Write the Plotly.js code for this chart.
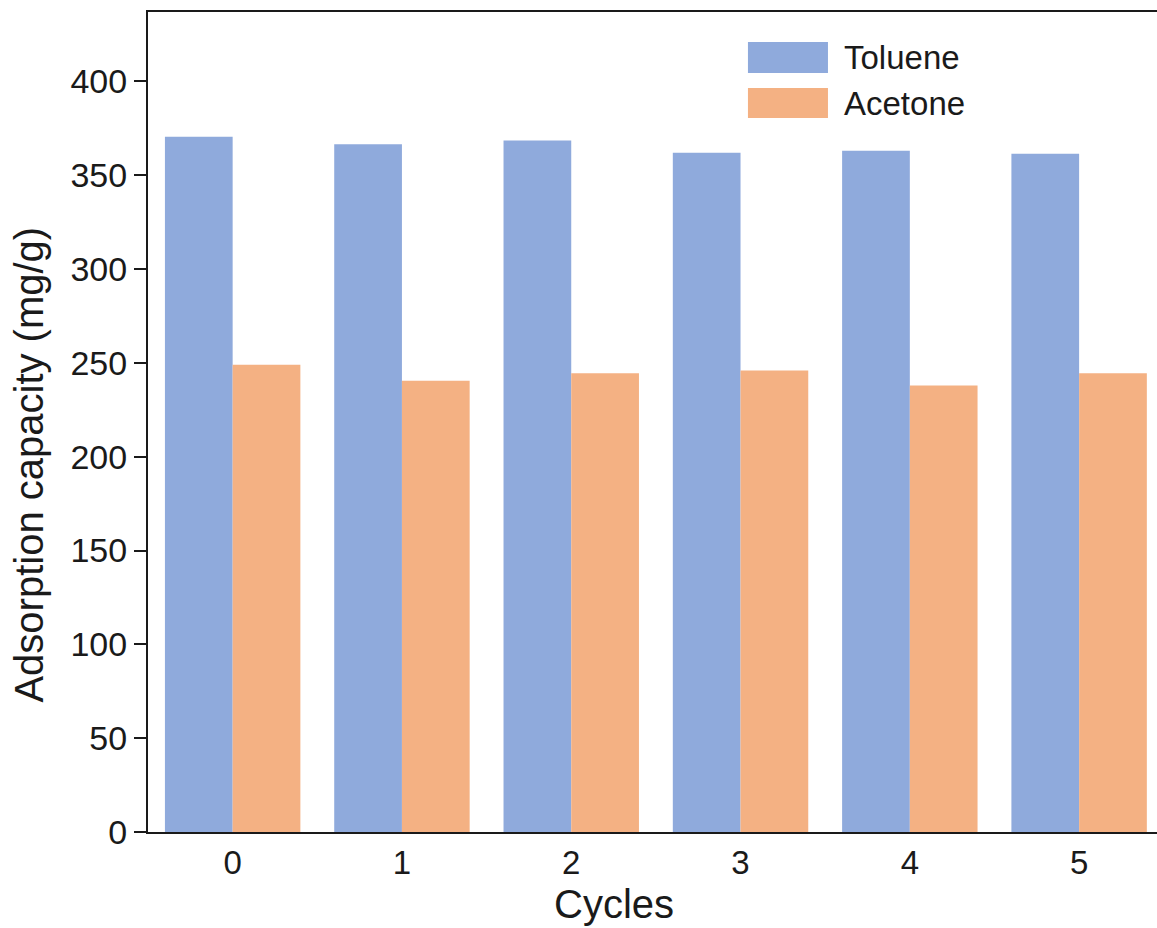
<!DOCTYPE html>
<html>
<head>
<meta charset="utf-8">
<script src="https://cdn.plot.ly/plotly-3.0.1.min.js"></script>
<style>
html,body{margin:0;padding:0;background:#fff;overflow:hidden;}
#chart{width:1157px;height:928px;}
</style>
</head>
<body>
<div id="chart"></div>
<script>
const cycles = ["0", "1", "2", "3", "4", "5"];
const seriesNames = ["Toluene", "Acetone"];
const toluene = [370.5, 366.5, 368.5, 362, 363, 361.5];
const acetone = [249, 240.5, 244.5, 246, 238, 244.5];
const colors = ["#8FAADC", "#F4B183"];
const yTicks = [0, 50, 100, 150, 200, 250, 300, 350, 400];
const xTitle = "Cycles";
const yTitle = "Adsorption capacity (mg/g)";

const font = "Liberation Sans, Arial, Helvetica, sans-serif";
const ink = "#1a1a1a";

const traces = [toluene, acetone].map((vals, i) => ({
  type: "bar",
  x: cycles,
  y: vals,
  name: seriesNames[i],
  marker: {color: colors[i], line: {width: 0}},
  showlegend: false,
  hoverinfo: "x+y+name"
}));

// legend drawn as swatches + labels in paper coords
const legX0 = 0.5946, legX1 = 0.6739, legTextX = 0.6878;
const legRows = [[0.9256, 0.9634], [0.8707, 0.9073]];
const shapes = legRows.map((r, i) => ({
  type: "rect", xref: "paper", yref: "paper",
  x0: legX0, x1: legX1, y0: r[0], y1: r[1],
  fillcolor: colors[i], line: {width: 0}
}));
const annotations = legRows.map((r, i) => ({
  xref: "paper", yref: "paper",
  x: legTextX, y: (r[0] + r[1]) / 2,
  xanchor: "left", yanchor: "middle",
  text: seriesNames[i], showarrow: false,
  font: {family: font, size: 33, color: ink}
}));
// axis titles placed as in the reference
annotations.push({
  xref: "paper", yref: "paper", x: 0.462, y: -0.088,
  xanchor: "center", yanchor: "middle", showarrow: false,
  text: xTitle, font: {family: font, size: 40, color: ink}
});
annotations.push({
  xref: "paper", yref: "paper", x: -0.118, y: 0.448,
  xanchor: "center", yanchor: "middle", showarrow: false, textangle: -90,
  text: yTitle, font: {family: font, size: 40, color: ink}
});

const layout = {
  width: 1157, height: 928,
  margin: {l: 148, r: 0, t: 12, b: 96},
  paper_bgcolor: "#fff", plot_bgcolor: "#fff",
  barmode: "group", bargap: 0.2, bargroupgap: 0,
  font: {family: font, color: ink},
  xaxis: {
    type: "category",
    range: [-0.5, 5.46],
    showgrid: false, zeroline: false,
    showline: true, linecolor: ink, linewidth: 2, mirror: true,
    ticks: "", tickfont: {family: font, size: 33, color: ink}
  },
  yaxis: {
    range: [0, 437],
    tickvals: yTicks, ticktext: yTicks.map(String),
    showgrid: false, zeroline: false,
    showline: true, linecolor: ink, linewidth: 2, mirror: false,
    ticks: "outside", ticklen: 12, tickwidth: 2, tickcolor: ink,
    tickfont: {family: font, size: 34, color: ink}
  },
  shapes: shapes,
  annotations: annotations
};

Plotly.newPlot("chart", traces, layout, {displayModeBar: false, staticPlot: true});
</script>
</body>
</html>
